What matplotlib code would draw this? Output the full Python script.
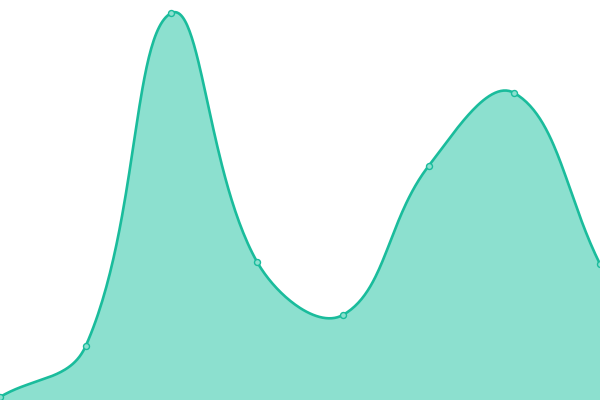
import numpy as np
import matplotlib
matplotlib.use("Agg")
import matplotlib.pyplot as plt

# data
labels = ["a", "b", "c", "d", "e", "f", "g", "h"]
values = [3, 54, 387, 138, 85, 234, 307, 136]

line_color = "#1abc9c"
fill_color = "#8ce0cf"
W, H = 600, 400
y_max = 400
tension = 0.4


def spline(px, py, t):
    # chart.js-style cubic bezier control points, computed in pixel space
    n = len(px)
    cps = []
    for i in range(n):
        p0 = (px[max(i - 1, 0)], py[max(i - 1, 0)])
        p1 = (px[i], py[i])
        p2 = (px[min(i + 1, n - 1)], py[min(i + 1, n - 1)])
        d01 = np.hypot(p1[0] - p0[0], p1[1] - p0[1])
        d12 = np.hypot(p2[0] - p1[0], p2[1] - p1[1])
        s01 = d01 / (d01 + d12) if d01 + d12 else 0
        s12 = d12 / (d01 + d12) if d01 + d12 else 0
        fa, fb = t * s01, t * s12
        prev = (p1[0] - fa * (p2[0] - p0[0]), p1[1] - fa * (p2[1] - p0[1]))
        nxt = (p1[0] + fb * (p2[0] - p0[0]), p1[1] + fb * (p2[1] - p0[1]))
        cps.append((prev, nxt))
    xs, ys = [], []
    u = np.linspace(0, 1, 60)
    for i in range(n - 1):
        a = (px[i], py[i])
        b = cps[i][1]
        c = cps[i + 1][0]
        d = (px[i + 1], py[i + 1])
        bx = (1-u)**3*a[0] + 3*(1-u)**2*u*b[0] + 3*(1-u)*u**2*c[0] + u**3*d[0]
        by = (1-u)**3*a[1] + 3*(1-u)**2*u*b[1] + 3*(1-u)*u**2*c[1] + u**3*d[1]
        xs.extend(bx)
        ys.extend(by)
    return np.array(xs), np.array(ys)


idx = np.arange(len(values))
sx = W / (len(values) - 1)
sy = H / y_max
cx, cy = spline(idx * sx, np.array(values) * sy, tension)
cx, cy = cx / sx, cy / sy

fig = plt.figure(figsize=(6, 4), dpi=100)
ax = fig.add_axes([0, 0, 1, 1])
ax.fill_between(cx, 0, cy, color=fill_color, lw=0)
ax.plot(cx, cy, color=line_color, lw=1.9, solid_capstyle="round")
ax.plot(idx, values, "o", ms=4.3, mfc=fill_color, mec=line_color, mew=1, clip_on=False)
ax.set_xlim(0, len(values) - 1)
ax.set_ylim(0, y_max)
ax.axis("off")
fig.savefig("out.png", dpi=100)
